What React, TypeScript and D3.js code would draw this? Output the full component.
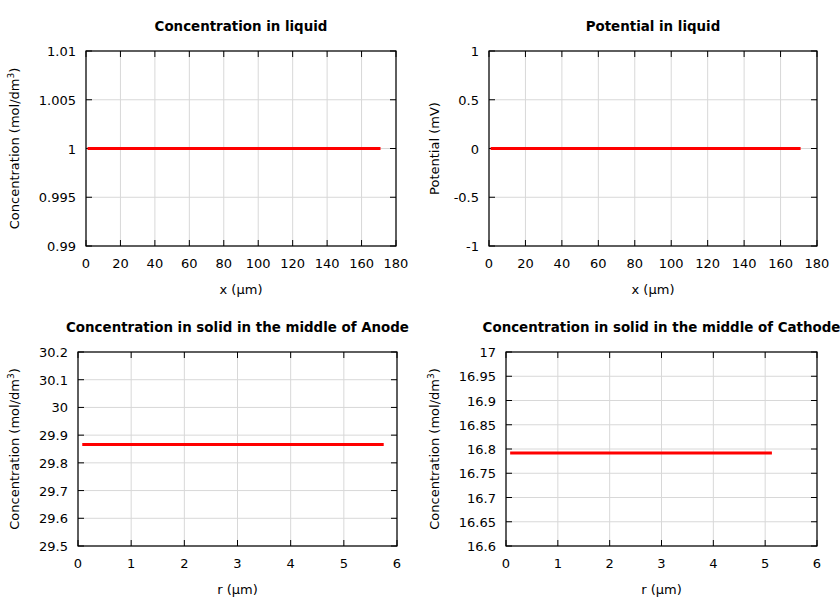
import React from "react";
import * as d3 from "d3";

// ---------- data ----------
const liquidX = [0.9, 20, 40, 60, 80, 100, 120, 140, 160, 171];
const liquidConc = [1, 1, 1, 1, 1, 1, 1, 1, 1, 1];
const liquidPot = [0, 0, 0, 0, 0, 0, 0, 0, 0, 0];

const anodeR = [0.08, 1, 2, 3, 4, 5, 5.75];
const anodeConc = [29.866, 29.866, 29.866, 29.866, 29.866, 29.866, 29.866];

const cathodeR = [0.08, 1, 2, 3, 4, 5, 5.13];
const cathodeConc = [16.792, 16.792, 16.792, 16.792, 16.792, 16.792, 16.792];

const xTicksLiquid = [0, 20, 40, 60, 80, 100, 120, 140, 160, 180];
const xTicksSolid = [0, 1, 2, 3, 4, 5, 6];
const yTicksConcLiquid = [0.99, 0.995, 1, 1.005, 1.01];
const yTicksPot = [-1, -0.5, 0, 0.5, 1];
const yTicksAnode = [29.5, 29.6, 29.7, 29.8, 29.9, 30, 30.1, 30.2];
const yTicksCathode = [16.6, 16.65, 16.7, 16.75, 16.8, 16.85, 16.9, 16.95, 17];

const FONT = "'DejaVu Sans', sans-serif";

type PanelProps = {
  title: string;
  xLabel: string;
  yLabel: string;
  superscript?: boolean;
  xs: number[];
  ys: number[];
  xDomain: [number, number];
  yDomain: [number, number];
  xTicks: number[];
  yTicks: number[];
  left: number;
  right: number;
  top: number;
  bottom: number;
  yLabelX: number;
};

function Panel(p: PanelProps) {
  const x = d3.scaleLinear().domain(p.xDomain).range([p.left, p.right]);
  const y = d3.scaleLinear().domain(p.yDomain).range([p.bottom, p.top]);
  const line = d3
    .line<number>()
    .x((_, i) => x(p.xs[i]))
    .y((d) => y(d));
  const fmt = (v: number) => String(+v.toFixed(4));
  const tick = 6;
  const cx = (p.left + p.right) / 2;
  const cy = (p.top + p.bottom) / 2;
  return (
    <g>
      {/* grid */}
      {p.xTicks.map((t) => (
        <line key={"gx" + t} x1={x(t)} x2={x(t)} y1={p.top} y2={p.bottom} stroke="#d8d8d8" strokeWidth={1} />
      ))}
      {p.yTicks.map((t) => (
        <line key={"gy" + t} x1={p.left} x2={p.right} y1={y(t)} y2={y(t)} stroke="#d8d8d8" strokeWidth={1} />
      ))}
      {/* ticks */}
      {p.xTicks.map((t) => (
        <g key={"tx" + t}>
          <line x1={x(t)} x2={x(t)} y1={p.bottom} y2={p.bottom - tick} stroke="#000" />
          <line x1={x(t)} x2={x(t)} y1={p.top} y2={p.top + tick} stroke="#000" />
          <text x={x(t)} y={p.bottom + 22} textAnchor="middle" fontSize={13} fontFamily={FONT}>
            {fmt(t)}
          </text>
        </g>
      ))}
      {p.yTicks.map((t) => (
        <g key={"ty" + t}>
          <line x1={p.left} x2={p.left + tick} y1={y(t)} y2={y(t)} stroke="#000" />
          <line x1={p.right} x2={p.right - tick} y1={y(t)} y2={y(t)} stroke="#000" />
          <text x={p.left - 10} y={y(t) + 5} textAnchor="end" fontSize={13} fontFamily={FONT}>
            {fmt(t)}
          </text>
        </g>
      ))}
      {/* data */}
      <path d={line(p.ys) || ""} fill="none" stroke="#ff0000" strokeWidth={3} />
      {/* frame */}
      <rect x={p.left} y={p.top} width={p.right - p.left} height={p.bottom - p.top} fill="none" stroke="#000" strokeWidth={1.2} />
      {/* title */}
      <text x={cx} y={p.top - 20} textAnchor="middle" fontSize={13.4} fontWeight="bold" fontFamily={FONT}>
        {p.title}
      </text>
      {/* x label */}
      <text x={cx} y={p.bottom + 48} textAnchor="middle" fontSize={13} fontFamily={FONT}>
        {p.xLabel}
      </text>
      {/* y label */}
      <text
        transform={`translate(${p.yLabelX},${cy}) rotate(-90)`}
        textAnchor="middle"
        fontSize={13}
        fontFamily={FONT}
      >
        {p.yLabel}
        {p.superscript ? (
          <>
            <tspan dy={-5} fontSize={9}>3</tspan>
            <tspan dy={5}>)</tspan>
          </>
        ) : null}
      </text>
    </g>
  );
}

export default function App() {
  return (
    <svg
      width={840}
      height={600}
      style={{ position: "absolute", left: 0, top: 0, display: "block", background: "#fff" }}
    >
      <rect x={0} y={0} width={840} height={600} fill="#fff" />
      <Panel
        title="Concentration in liquid"
        xLabel="x (µm)"
        yLabel="Concentration (mol/dm"
        superscript
        xs={liquidX}
        ys={liquidConc}
        xDomain={[0, 180]}
        yDomain={[0.99, 1.01]}
        xTicks={xTicksLiquid}
        yTicks={yTicksConcLiquid}
        left={86}
        right={396}
        top={51}
        bottom={246}
        yLabelX={19}
      />
      <Panel
        title="Potential in liquid"
        xLabel="x (µm)"
        yLabel="Potential (mV)"
        xs={liquidX}
        ys={liquidPot}
        xDomain={[0, 180]}
        yDomain={[-1, 1]}
        xTicks={xTicksLiquid}
        yTicks={yTicksPot}
        left={489}
        right={817}
        top={51}
        bottom={246}
        yLabelX={439}
      />
      <Panel
        title="Concentration in solid in the middle of Anode"
        xLabel="r (µm)"
        yLabel="Concentration (mol/dm"
        superscript
        xs={anodeR}
        ys={anodeConc}
        xDomain={[0, 6]}
        yDomain={[29.5, 30.2]}
        xTicks={xTicksSolid}
        yTicks={yTicksAnode}
        left={78}
        right={397}
        top={352}
        bottom={546}
        yLabelX={19}
      />
      <Panel
        title="Concentration in solid in the middle of Cathode"
        xLabel="r (µm)"
        yLabel="Concentration (mol/dm"
        superscript
        xs={cathodeR}
        ys={cathodeConc}
        xDomain={[0, 6]}
        yDomain={[16.6, 17]}
        xTicks={xTicksSolid}
        yTicks={yTicksCathode}
        left={506}
        right={817}
        top={352}
        bottom={546}
        yLabelX={439}
      />
    </svg>
  );
}
